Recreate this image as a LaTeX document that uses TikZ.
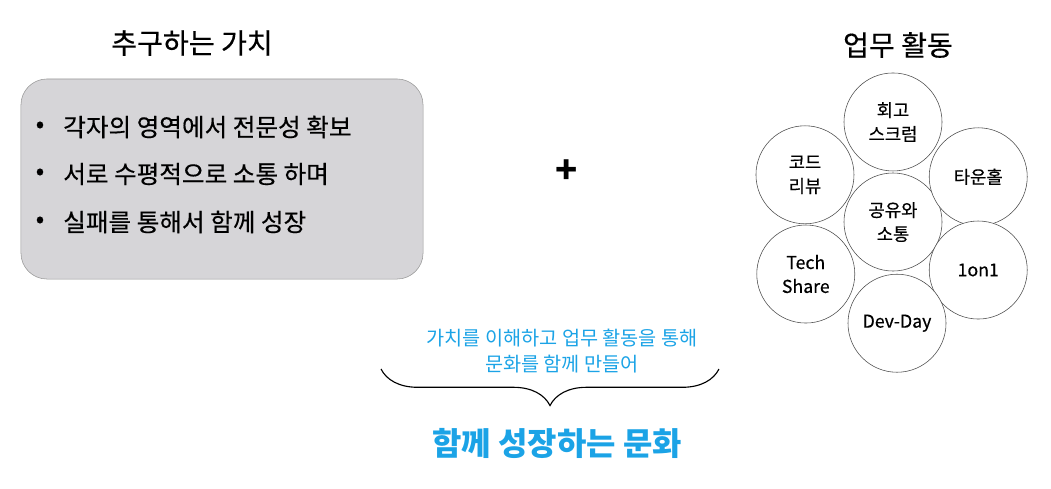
\documentclass[tikz,border=0pt]{standalone}
\usepackage{fontspec}
\setmainfont{Noto Sans CJK KR}
\newfontfamily\krmed[FakeBold=0.4]{Noto Sans CJK KR}
\usetikzlibrary{positioning, decorations.pathreplacing}
\definecolor{skyblue}{HTML}{1BA3E6}
\definecolor{panelgray}{HTML}{D6D5D8}

\begin{document}
\begin{tikzpicture}[
        x = 0.025cm, y = -0.025cm, on grid,
        every node/.style = {inner sep = 0pt},
        heading/.style = {font = \krmed\fontsize{20}{24}\selectfont},
        value/.style = {anchor = west, font = \krmed\fontsize{17.5}{21}\selectfont},
        dot/.style = {font = \krmed\fontsize{18}{20}\selectfont},
        activity/.style = {circle, draw = black!70, fill = white, thin, minimum size = 2.45cm,
                           align = center, font = \krmed\fontsize{12.6}{17}\selectfont},
        curly/.style = {decorate, decoration = {brace, amplitude = 26pt}, thick}
    ]
      \useasboundingbox (0,0) rectangle (1051,488);

      \node[heading] (valuetitle) at (192,43) {추구하는 가치};
      \node[draw = black!40, fill = panelgray, rounded corners = 0.65cm,
            minimum width = 10.05cm, minimum height = 5cm] (panel) at (222,179) {};
      \node[dot] (b1) at (40,127) {•};
      \node[dot] (b2) at (40,174) {•};
      \node[dot] (b3) at (40,222) {•};
      \node[value] (v1) at (63,127) {각자의 영역에서 전문성 확보};
      \node[value] (v2) at (63,174) {서로 수평적으로 소통 하며};
      \node[value] (v3) at (63,222) {실패를 통해서 함께 성장};

      \node[font = \bfseries\fontsize{26}{26}\selectfont] (plus) at (567,172) {+};

      \node[heading] (worktitle) at (898,45) {업무 활동};
      \node[activity] (share) at (893,222) {공유와\\소통};
      \node[activity] (retro) [above = 2.5cm of share] {회고\\스크럼};
      \node[activity] (review) [above left = 1.18cm and 2.2cm of share] {코드\\리뷰};
      \node[activity] (townhall) [above right = 1.13cm and 2.13cm of share] {타운홀};
      \node[activity] (tech) [below left = 1.3cm and 2.18cm of share] {Tech\\Share};
      \node[activity] (oneonone) [below right = 1.2cm and 2.13cm of share] {1on1};
      \node[activity] (devday) [below right = 2.53cm and 0.1cm of share] {Dev-Day};

      \node[align = center, text = skyblue, font = \fontsize{14}{18.5}\selectfont] (note) at (562,351)
        {가치를 이해하고 업무 활동을 통해\\문화를 함께 만들어};
      \coordinate (braceleft) at (381,369);
      \coordinate (braceright) at (719,369);
      \draw[curly] (braceright) -- (braceleft);
      \node[text = skyblue, font = \bfseries\fontsize{22.7}{26}\selectfont] (culture) at (557,443) {함께 성장하는 문화};
    \end{tikzpicture}
\end{document}
